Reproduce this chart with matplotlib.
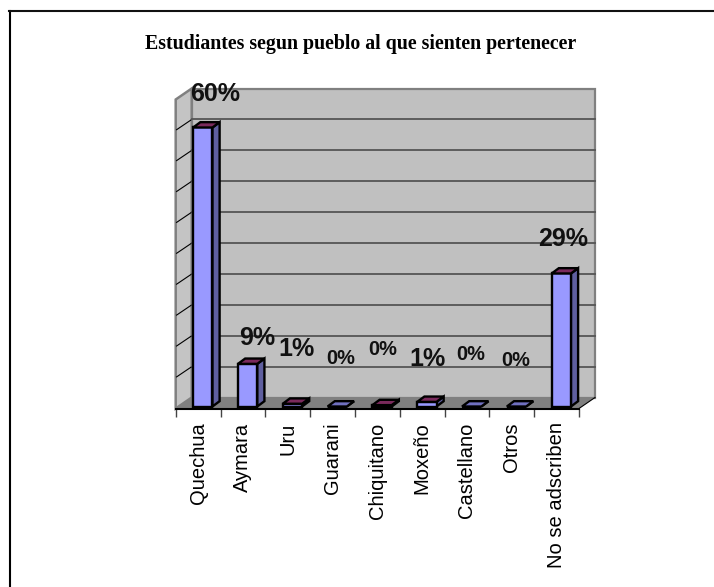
import numpy as np
import matplotlib
matplotlib.use('Agg')
import matplotlib.pyplot as plt
from matplotlib.lines import Line2D

categories = ['Quechua', 'Aymara', 'Uru', 'Guarani', 'Chiquitano', 'Moxeño', 'Castellano', 'Otros', 'No se adscriben']
values = [60.2, 9.2, 0.6, 0.0, 0.3, 1.0, 0.0, 0.0, 28.7]
labels = ['60%', '9%', '1%', '0%', '0%', '1%', '0%', '0%', '29%']

# label placement, in pixels from the top of each bar
label_dx = [12, 9.4, 3.6, 3.5, 0.7, 0.2, -0.6, -0.4, 2]
label_dy = [33.5, 25.5, 54.5, 48.5, 55.5, 42.5, 52.5, 46.5, 34.5]
label_size = [18, 18, 18, 14.4, 14.4, 18, 14.4, 14.4, 18]

ymax = 66.67
ystep = ymax / 10
depth_x = 0.357
depth_y = 2.37
bar_left = 0.39
bar_width = 0.43
bar_base = 0.43
bar_dx = 0.16
bar_dy = 1.15

W, H = 714, 587
fig = plt.figure(figsize=(W / 100, H / 100), dpi=100, facecolor='white')
ax = fig.add_axes([175.7 / W, (H - 408.5) / H, 403.3 / W, 309 / H], facecolor='none')
ax.set_xlim(0, 9)
ax.set_ylim(0, ymax)

# page frame, only top and left are visible
fig.add_artist(Line2D([9.5 / W, 9.5 / W], [0, 1 - 10.5 / H], color='black', lw=1.5))
fig.add_artist(Line2D([9 / W, 1], [1 - 10.5 / H, 1 - 10.5 / H], color='#111111', lw=1.5))

fig.text(360.5 / W, 1 - 43.5 / H, 'Estudiantes segun pueblo al que sienten pertenecer',
         family='Liberation Serif', fontweight='bold', fontsize=14.3, ha='center', va='center')

# walls and floor
wall_kw = dict(clip_on=False, zorder=1)
ax.fill([depth_x, 9 + depth_x, 9 + depth_x, depth_x],
        [depth_y, depth_y, ymax + depth_y, ymax + depth_y], facecolor='#C0C0C0', edgecolor='#808080', lw=1.6, **wall_kw)
ax.fill([0, depth_x, depth_x, 0], [0, depth_y, ymax + depth_y, ymax],
        facecolor='#C4C4C4', edgecolor='#808080', lw=1.8, **wall_kw)
ax.fill([0, depth_x, 9 + depth_x, 9], [0, depth_y, depth_y, 0], facecolor='#808080', edgecolor='none', **wall_kw)
ax.plot([9, 9 + depth_x], [0, depth_y], color='black', lw=0.8, clip_on=False, zorder=2)

# gridlines on the back wall with their ticks on the side wall
for k in range(1, 10):
    v = k * ystep
    ax.plot([depth_x, 9 + depth_x], [v + depth_y, v + depth_y], color='#555555', lw=1.3, clip_on=False, zorder=2)
    ax.plot([0.02, depth_x - 0.02], [v + 0.15, v + depth_y - 0.15], color='black', lw=0.8, clip_on=False, zorder=2)

# bars
x = np.arange(len(categories)) + bar_left
ax.bar(x, values, width=bar_width, bottom=bar_base, align='edge', color='#9999FF',
       edgecolor='black', linewidth=1.7, zorder=4, clip_on=False)
for i, v in enumerate(values):
    x0 = x[i]
    x1 = x0 + bar_width
    top = v + bar_base
    ax.fill([x1, x1 + bar_dx, x1 + bar_dx, x1], [bar_base, bar_base + bar_dy, top + bar_dy, top],
            facecolor='#5F5F9F', edgecolor='black', lw=1.7, zorder=3, clip_on=False)
    top_color = '#7A2A5C' if v > 0 else '#7070C0'
    ax.fill([x0, x0 + bar_dx, x1 + bar_dx, x1], [top, top + bar_dy, top + bar_dy, top],
            facecolor=top_color, edgecolor='black', lw=1.7, zorder=5, clip_on=False)
    ax.annotate(labels[i], xy=(x0 + bar_width / 2, top), xytext=(label_dx[i], label_dy[i]),
                textcoords='offset pixels', ha='center', va='center', fontsize=label_size[i],
                fontweight='bold', family='Liberation Sans', color='#111111', zorder=6, annotation_clip=False)

# category axis
for side in ['left', 'right', 'top']:
    ax.spines[side].set_visible(False)
ax.spines['bottom'].set_linewidth(1.5)
ax.spines['bottom'].set_zorder(7)
ax.set_yticks([])
ax.set_xticks(np.arange(10))
ax.set_xticklabels([])
ax.tick_params(axis='x', which='major', length=6, width=1, color='#444444', direction='out')
ax.set_xticks(np.arange(9) + 0.5, minor=True)
ax.set_xticklabels(categories, minor=True, rotation=90, family='Liberation Sans', fontsize=14.5, va='top', ha='center')
ax.tick_params(axis='x', which='minor', length=0, pad=10)

fig.savefig('out.png', dpi=100, facecolor='white')
